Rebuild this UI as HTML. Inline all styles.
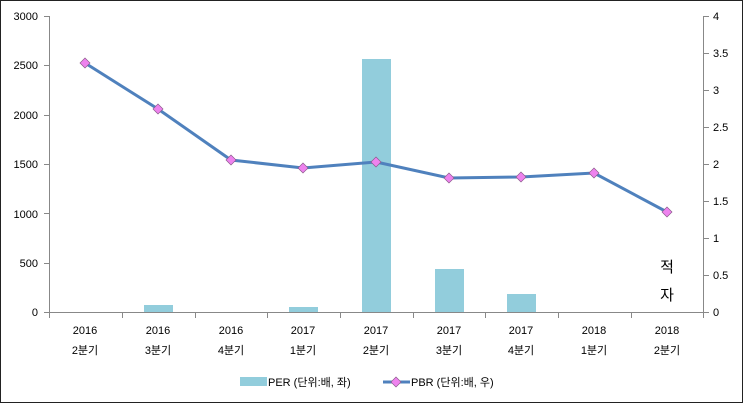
<!DOCTYPE html>
<html><head><meta charset="utf-8"><style>
html,body{margin:0;padding:0;background:#fff}
svg{display:block;font-family:"Liberation Sans","Noto Sans CJK KR",sans-serif}
</style></head><body>
<svg width="743" height="403" viewBox="0 0 743 403" xmlns="http://www.w3.org/2000/svg">
<rect x="0.5" y="0.5" width="742" height="402" fill="#fff" stroke="#222" stroke-width="1"/>
<g font-size="11" fill="#000" text-anchor="end">
<text x="38" y="20">3000</text><text x="38" y="69">2500</text><text x="38" y="119">2000</text>
<text x="38" y="168">1500</text><text x="38" y="218">1000</text><text x="38" y="267">500</text>
<text x="38" y="316">0</text>
</g>
<g font-size="11" fill="#000" text-anchor="start">
<text x="713" y="20">4</text><text x="713" y="57">3.5</text><text x="713" y="94">3</text>
<text x="713" y="131">2.5</text><text x="713" y="168">2</text><text x="713" y="205">1.5</text>
<text x="713" y="242">1</text><text x="713" y="279">0.5</text><text x="713" y="316">0</text>
</g>
<g stroke="#888" stroke-width="1">
<line x1="49.5" y1="16" x2="49.5" y2="312"/>
<line x1="703.5" y1="16" x2="703.5" y2="312"/>
<line x1="49" y1="312.5" x2="704" y2="312.5"/>
<line x1="44" y1="16.5" x2="49" y2="16.5"/><line x1="44" y1="65.5" x2="49" y2="65.5"/>
<line x1="44" y1="115.5" x2="49" y2="115.5"/><line x1="44" y1="164.5" x2="49" y2="164.5"/>
<line x1="44" y1="213.5" x2="49" y2="213.5"/><line x1="44" y1="263.5" x2="49" y2="263.5"/>
<line x1="44" y1="312.5" x2="49" y2="312.5"/>
<line x1="704" y1="16.5" x2="709" y2="16.5"/><line x1="704" y1="53.5" x2="709" y2="53.5"/>
<line x1="704" y1="90.5" x2="709" y2="90.5"/><line x1="704" y1="127.5" x2="709" y2="127.5"/>
<line x1="704" y1="164.5" x2="709" y2="164.5"/><line x1="704" y1="201.5" x2="709" y2="201.5"/>
<line x1="704" y1="238.5" x2="709" y2="238.5"/><line x1="704" y1="275.5" x2="709" y2="275.5"/>
<line x1="704" y1="312.5" x2="709" y2="312.5"/>
<line x1="49.5" y1="312" x2="49.5" y2="318"/><line x1="122.5" y1="312" x2="122.5" y2="318"/>
<line x1="195.5" y1="312" x2="195.5" y2="318"/><line x1="267.5" y1="312" x2="267.5" y2="318"/>
<line x1="340.5" y1="312" x2="340.5" y2="318"/><line x1="413.5" y1="312" x2="413.5" y2="318"/>
<line x1="485.5" y1="312" x2="485.5" y2="318"/><line x1="558.5" y1="312" x2="558.5" y2="318"/>
<line x1="631.5" y1="312" x2="631.5" y2="318"/><line x1="703.5" y1="312" x2="703.5" y2="318"/>
</g>
<g fill="#92cddc">
<rect x="144" y="305" width="29" height="7"/>
<rect x="289" y="307" width="29" height="5"/>
<rect x="362" y="59" width="29" height="253"/>
<rect x="435" y="269" width="29" height="43"/>
<rect x="507" y="294" width="29" height="18"/>
</g>
<polyline fill="none" stroke="#4f81bd" stroke-width="3" points="85,63 158,109 231,160 303,168 376,162 449,178 521,177 594,173 667,212"/>
<g fill="#ee82ee" stroke="#8a5a8a" stroke-width="0.7">
<path d="M85,58 l5,5 -5,5 -5,-5z"/><path d="M158,104 l5,5 -5,5 -5,-5z"/>
<path d="M231,155 l5,5 -5,5 -5,-5z"/><path d="M303,163 l5,5 -5,5 -5,-5z"/>
<path d="M376,157 l5,5 -5,5 -5,-5z"/><path d="M449,173 l5,5 -5,5 -5,-5z"/>
<path d="M521,172 l5,5 -5,5 -5,-5z"/><path d="M594,168 l5,5 -5,5 -5,-5z"/>
<path d="M667,207 l5,5 -5,5 -5,-5z"/>
</g>
<g font-size="11" fill="#000" text-anchor="middle">
<text x="85" y="334">2016</text><text x="85" y="354">2분기</text>
<text x="158" y="334">2016</text><text x="158" y="354">3분기</text>
<text x="231" y="334">2016</text><text x="231" y="354">4분기</text>
<text x="303" y="334">2017</text><text x="303" y="354">1분기</text>
<text x="376" y="334">2017</text><text x="376" y="354">2분기</text>
<text x="449" y="334">2017</text><text x="449" y="354">3분기</text>
<text x="521" y="334">2017</text><text x="521" y="354">4분기</text>
<text x="594" y="334">2018</text><text x="594" y="354">1분기</text>
<text x="667" y="334">2018</text><text x="667" y="354">2분기</text>
</g>
<text x="667" y="272" font-size="15" text-anchor="middle">적</text>
<text x="667" y="300" font-size="15" text-anchor="middle">자</text>
<rect x="240" y="377" width="27" height="9" fill="#92cddc"/>
<text x="268" y="386" font-size="11">PER (단위:배, 좌)</text>
<line x1="383" y1="382" x2="410" y2="382" stroke="#4f81bd" stroke-width="3"/>
<path d="M396,377 l5,5 -5,5 -5,-5z" fill="#ee82ee" stroke="#8a5a8a" stroke-width="0.7"/>
<text x="411" y="386" font-size="11">PBR (단위:배, 우)</text>
</svg>
</body></html>
